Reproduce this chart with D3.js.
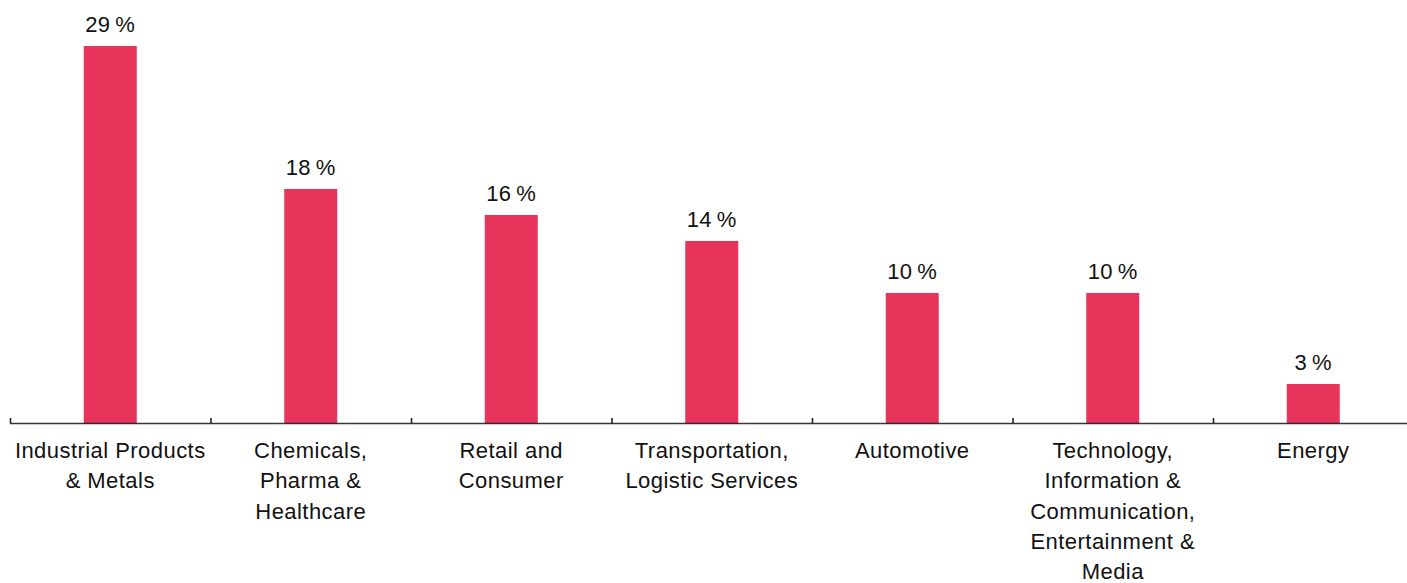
<!DOCTYPE html>
<html>
<head>
<meta charset="utf-8">
<script src="https://cdn.jsdelivr.net/npm/d3@7"></script>
<style>
  html, body { margin: 0; padding: 0; background: #fff; }
  svg { display: block; }
  text { font-family: "Liberation Sans", Arial, Helvetica, sans-serif; fill: #111; }
</style>
</head>
<body>
<svg id="chart" width="1407" height="583"></svg>
<script>
// Share by industry sector (%)
const categories = [
  ["Industrial Products", "& Metals"],
  ["Chemicals,", "Pharma &", "Healthcare"],
  ["Retail and", "Consumer"],
  ["Transportation,", "Logistic Services"],
  ["Automotive"],
  ["Technology,", "Information &", "Communication,", "Entertainment &", "Media"],
  ["Energy"]
];
const values = [29, 18, 16, 14, 10, 10, 3];

const svg = d3.select("#chart");
const W = 1407;
const baseY = 423;
const barColor = "#e6345b";
const fontSize = 22;
const spacing = 0.45;

const keys = categories.map((c, i) => i);
const x = d3.scaleBand().domain(keys).range([10, 1413.5]).paddingInner(0).paddingOuter(0);
const barW = 53;
const y = d3.scaleLinear().domain([0, 29]).range([baseY, 46]);

// bars
svg.append("g").selectAll("rect")
  .data(values)
  .join("rect")
  .attr("x", (d, i) => x(i) + x.bandwidth() / 2 - barW / 2)
  .attr("width", barW)
  .attr("y", d => y(d))
  .attr("height", d => baseY + 1 - y(d))
  .attr("fill", barColor);

// value labels
svg.append("g").selectAll("text")
  .data(values)
  .join("text")
  .attr("x", (d, i) => x(i) + x.bandwidth() / 2)
  .attr("y", d => y(d) - 14)
  .attr("text-anchor", "middle")
  .attr("font-size", fontSize)
  .attr("letter-spacing", spacing)
  .text(d => d + "\u2009%");

// baseline axis with inward ticks
const axis = svg.append("g");
axis.append("line")
  .attr("x1", 10).attr("x2", W)
  .attr("y1", baseY + 0.5).attr("y2", baseY + 0.5)
  .attr("stroke", "#222").attr("stroke-width", 1.6).attr("stroke-opacity", 0.9);
axis.selectAll("line.tick")
  .data(keys)
  .join("line")
  .attr("class", "tick")
  .attr("x1", d => x(d) + 0.5).attr("x2", d => x(d) + 0.5)
  .attr("y1", baseY - 5).attr("y2", baseY + 0.5)
  .attr("stroke", "#222").attr("stroke-width", 1.6);

// category labels
const labels = svg.append("g").selectAll("text")
  .data(categories)
  .join("text")
  .attr("text-anchor", "middle")
  .attr("font-size", fontSize)
  .attr("letter-spacing", spacing)
  .attr("transform", (d, i) => `translate(${x(i) + x.bandwidth() / 2},458)`);
labels.selectAll("tspan")
  .data(d => d)
  .join("tspan")
  .attr("x", 0)
  .attr("y", (d, j) => j * 30.3)
  .text(d => d);
</script>
</body>
</html>
